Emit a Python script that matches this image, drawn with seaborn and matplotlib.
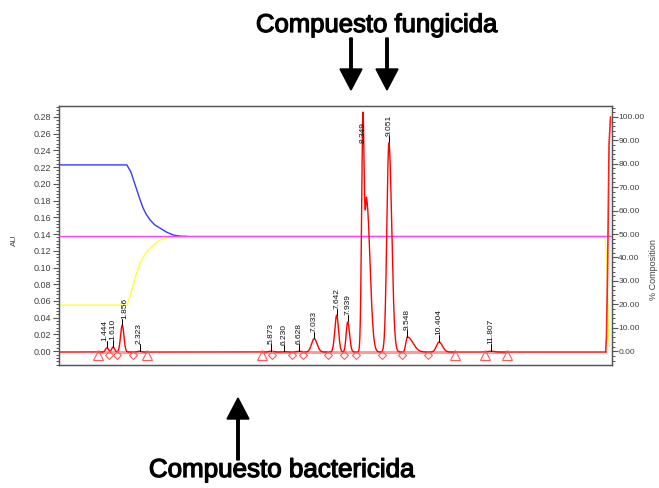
import numpy as np
import matplotlib
matplotlib.use("Agg")
import matplotlib.pyplot as plt
import seaborn as sns
from matplotlib.ticker import MultipleLocator, FormatStrFormatter
from matplotlib.patches import FancyArrow
import matplotlib.patheffects as pe

# ---------------- data ----------------
peak_labels = ["1.444", "1.610", "1.856", "2.323", "5.873", "6.230", "6.628", "7.033",
               "7.642", "7.939", "8.349", "9.051", "9.548", "10.404", "11.807"]
peak_times = [1.444, 1.610, 1.856, 2.323, 5.873, 6.230, 6.628, 7.033,
              7.642, 7.939, 8.349, 9.051, 9.548, 10.404, 11.807]
peak_heights = [0.005, 0.006, 0.032, 0.001, 0.001, 0.0005, 0.001, 0.016,
                0.044, 0.036, 0.279, 0.250, 0.018, 0.012, 0.001]
peak_sigma_left = [0.04, 0.04, 0.045, 0.05, 0.06, 0.06, 0.06, 0.07,
                   0.05, 0.04, 0.035, 0.055, 0.04, 0.07, 0.08]
peak_sigma_right = [0.04, 0.04, 0.045, 0.05, 0.06, 0.06, 0.06, 0.08,
                    0.05, 0.05, 0.035, 0.075, 0.15, 0.09, 0.08]
# unlabelled shoulder on the 8.349 peak
shoulder_times = [8.45]
shoulder_heights = [0.18]
shoulder_sigma_left = [0.04]
shoulder_sigma_right = [0.09]
baseline_au = -0.001

# integration events
event_start_end = [1.20, 2.52, 5.63, 10.84, 11.65, 12.24]
event_valleys = [1.50, 1.71, 2.15, 5.90, 6.44, 6.73, 7.41, 7.84, 8.16, 8.87, 9.41, 10.11]

# solvent composition traces (% composition)
blue_t = [0.15, 1.98, 2.09, 2.17, 2.25, 2.34, 2.42, 2.50, 2.61, 2.74, 2.87, 3.04, 3.23, 3.42, 3.60]
blue_pct = [79.5, 79.5, 76.5, 72.6, 68.8, 64.5, 61.1, 58.5, 56.0, 53.8, 52.6, 50.9, 49.6, 49.1, 49.1]
yellow_t = [0.15, 1.98, 2.06, 2.15, 2.25, 2.33, 2.44, 2.55, 2.71, 2.87, 3.04, 3.23, 3.60,
            14.88, 14.93, 14.97, 15.00]
yellow_pct = [19.7, 19.7, 23.1, 28.2, 33.8, 37.6, 40.6, 43.2, 45.3, 47.4, 48.3, 48.7, 49.1,
              49.1, 38.0, 10.0, 2.0]
magenta_t = [0.15, 15.07]
magenta_pct = [49.0, 49.0]
red_t = [14.90, 14.92, 14.95, 14.99, 15.03]
red_pct = [0.0, 6.0, 33.0, 88.0, 100.0]

left_ticks = [0.00, 0.02, 0.04, 0.06, 0.08, 0.10, 0.12, 0.14, 0.16, 0.18, 0.20, 0.22, 0.24, 0.26, 0.28]
right_ticks = [0, 10, 20, 30, 40, 50, 60, 70, 80, 90, 100]

# ---------------- build the trace ----------------
t = np.linspace(0.15, 14.92, 4000)


def asym_gauss(x, t0, h, sl, sr):
    s = np.where(x < t0, sl, sr)
    return h * np.exp(-0.5 * ((x - t0) / s) ** 2)


signal = np.full_like(t, baseline_au)
for t0, h, sl, sr in zip(peak_times, peak_heights, peak_sigma_left, peak_sigma_right):
    signal += asym_gauss(t, t0, h, sl, sr)
for t0, h, sl, sr in zip(shoulder_times, shoulder_heights, shoulder_sigma_left, shoulder_sigma_right):
    signal += asym_gauss(t, t0, h, sl, sr)

# ---------------- figure ----------------
sns.set_theme(style="white")
plt.rcParams["font.family"] = ["Liberation Sans", "DejaVu Sans"]

W, H = 659, 488
fig = plt.figure(figsize=(W / 100, H / 100), dpi=100)
ax = fig.add_axes([59 / W, 1 - 365 / H, (612 - 59) / W, (365 - 106) / H])
ax2 = ax.twinx()

K = 100 / 0.28  # AU -> % composition scale shared by both axes
XL = (0.15, 15.07)
YL = (-0.0165, 0.293)
ax.set_xlim(*XL)
ax.set_ylim(*YL)
ax2.set_ylim(YL[0] * K, YL[1] * K)

spine_c = "#555555"
for a in (ax, ax2):
    for s in a.spines.values():
        s.set_color(spine_c)
        s.set_linewidth(0.9)
    a.grid(False)

# composition traces (right axis)
sns.lineplot(x=blue_t, y=blue_pct, ax=ax2, color="#3a3aff", lw=1.0, sort=False, zorder=2)
sns.lineplot(x=yellow_t, y=yellow_pct, ax=ax2, color="#ffff33", lw=1.0, sort=False, zorder=2)
sns.lineplot(x=magenta_t, y=magenta_pct, ax=ax2, color="#ff40ff", lw=1.0, sort=False, zorder=3)
sns.lineplot(x=red_t, y=red_pct, ax=ax2, color="#ff2020", lw=1.2, sort=False, zorder=3)

# integration baselines
for a, b in zip(event_start_end[0::2], event_start_end[1::2]):
    ax2.plot([a, b], [baseline_au * K] * 2, color="#ff9a9a", lw=2.2, zorder=3)

# chromatogram
sns.lineplot(x=t, y=signal * K, ax=ax2, color="#ff0000", lw=1.0, sort=False, zorder=4)
ax2.set_ylabel("")
ax2.set_xlabel("")

mk_y = -0.004 * K
ax2.plot(event_start_end, [mk_y] * len(event_start_end), ls="none", marker="^", ms=7,
         mfc="none", mec="#ff5a5a", mew=0.8, zorder=5)
ax2.plot(event_valleys, [mk_y] * len(event_valleys), ls="none", marker="D", ms=4.5,
         mfc="none", mec="#ff5a5a", mew=0.8, zorder=5)

# peak labels: spread labels of very close peaks sideways a little
n = len(peak_times)
xshift = [0.0] * n
for i in range(n - 1):
    if peak_times[i + 1] - peak_times[i] < 0.25:
        xshift[i] -= 1.6
        xshift[i + 1] += 1.6

label_h = 0.026
for i, (t0, lab) in enumerate(zip(peak_times, peak_labels)):
    apex = float(np.interp(t0, t, signal))
    bottom = apex + 0.008
    if bottom + label_h > 0.29:
        bottom = apex - 0.010 - label_h
    else:
        ax2.plot([t0, t0], [(apex + 0.0005) * K, bottom * K], color="black", lw=0.7, zorder=6)
    ax2.annotate(lab, xy=(t0, bottom * K), xytext=(xshift[i], 0), textcoords="offset points",
                 rotation=90, ha="center", va="bottom", fontsize=6, color="#111111", zorder=7)

# axes ticks
ax.xaxis.set_visible(False)
ax2.xaxis.set_visible(False)
ax.set_yticks(left_ticks)
ax.yaxis.set_major_formatter(FormatStrFormatter("%.2f"))
ax.yaxis.set_minor_locator(MultipleLocator(0.004))
ax2.set_yticks(right_ticks)
ax2.yaxis.set_major_formatter(FormatStrFormatter("%.2f"))
ax2.yaxis.set_minor_locator(MultipleLocator(2))
ax.tick_params(axis="y", which="major", direction="out", length=4, width=0.8, color=spine_c,
               labelsize=6.5, labelcolor="#404040", pad=1.5, left=True)
ax.tick_params(axis="y", which="minor", direction="out", length=2.5, width=0.7, color=spine_c, left=True)
ax2.tick_params(axis="y", which="major", direction="out", length=4, width=0.8, color=spine_c,
                labelsize=6, labelcolor="#404040", pad=0.5, right=True)
ax2.tick_params(axis="y", which="minor", direction="out", length=2.5, width=0.7, color=spine_c, right=True)

fig.text(14 / W, 1 - 240 / H, "AU", rotation=90, ha="center", va="center", fontsize=6, color="#404040")
fig.text(654 / W, 1 - 270 / H, "% Composition", rotation=90, ha="center", va="center",
         fontsize=6.5, color="#404040")

# annotations outside the axes
thick = [pe.withStroke(linewidth=0.9, foreground="black")]
fig.text(377 / W, 1 - 32 / H, "Compuesto fungicida", ha="center", va="baseline",
         fontsize=18.5, color="black", path_effects=thick)
fig.text(282 / W, 1 - 477 / H, "Compuesto bactericida", ha="center", va="baseline",
         fontsize=18.7, color="black", path_effects=thick)


def arrow(x, y_tail, y_tip):
    L = (y_tail - y_tip) / H  # positive = up in figure coords
    fig.patches.append(FancyArrow(x / W, 1 - y_tail / H, 0, L, width=2.5 / W,
                                  head_width=22 / W, head_length=21 / H,
                                  length_includes_head=True, color="black",
                                  transform=fig.transFigure, figure=fig))


arrow(351, 38, 90)
arrow(387, 38, 90)
arrow(238, 460, 398)

fig.savefig("out.png", dpi=100, facecolor="white")
